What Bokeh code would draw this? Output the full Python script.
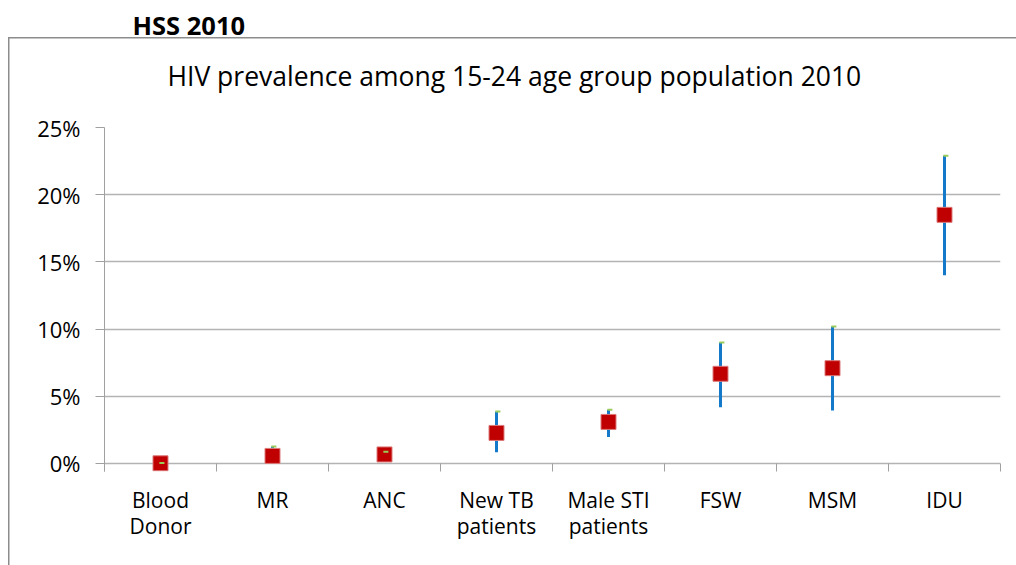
from bokeh.plotting import figure
from bokeh.models import FixedTicker, PrintfTickFormatter, Title, Range1d, ColumnDataSource
from bokeh.embed import file_html
from bokeh.resources import INLINE

# ---- data (percent) ----
categories = ["Blood\nDonor", "MR", "ANC", "New TB\npatients", "Male STI\npatients", "FSW", "MSM", "IDU"]
prevalence = [0.01, 0.56, 0.67, 2.27, 3.09, 6.67, 7.09, 18.5]
lower_ci = [0.0, 0.0, 0.5, 0.84, 1.96, 4.19, 3.94, 14.0]
upper_ci = [0.03, 1.26, 0.87, 3.87, 4.0, 9.0, 10.2, 22.9]
y_ticks = [0, 5, 10, 15, 20, 25]
chart_title = "HIV prevalence among 15-24 age group population 2010"
page_title = "HSS 2010"

xs = list(range(len(categories)))
src = ColumnDataSource(dict(
    x=xs,
    cap0=[x - 0.01 for x in xs],
    cap1=[x + 0.035 for x in xs],
    prev=prevalence, lo=lower_ci, hi=upper_ci,
))

FONT = "Open Sans"
GRID = "#b3b3b3"
AXIS = "#a0a0a0"
BOX = "#8c8c8c"

p = figure(width=1016, height=565, output_backend="svg", toolbar_location=None,
           x_range=Range1d(-0.5, len(categories) - 0.5), y_range=Range1d(-0.6, 25),
           min_border_left=104, min_border_right=16, min_border_top=127, min_border_bottom=94,
           title=page_title)
p.outline_line_color = None
p.background_fill_color = None
p.border_fill_color = None
# outer chart border (top and left edges of the surrounding box)
p.styles = {
    "background-image": f"linear-gradient({BOX}, {BOX}), linear-gradient({BOX}, {BOX})",
    "background-position": "8px 37px, 8px 37px",
    "background-size": "1100px 1.5px, 1.5px 700px",
    "background-repeat": "no-repeat",
}

# titles: page title outermost; chart title nearer the frame, with thin spacers
p.title.align = "left"
p.title.offset = 28
p.title.standoff = 0
p.title.text_font = FONT
p.title.text_font_size = "25.5px"
p.title.text_font_style = "bold"
p.title.text_color = "#000000"
p.add_layout(Title(text=" ", text_font_size="1px", standoff=30.5), "above")
p.add_layout(Title(text=chart_title, align="left", offset=63, standoff=0, text_font=FONT,
                   text_font_size="26.5px", text_font_style="normal", text_color="#000000"), "above")
p.add_layout(Title(text=" ", text_font_size="1px", standoff=11), "above")

# y axis
p.yaxis.ticker = FixedTicker(ticks=y_ticks)
p.yaxis.formatter = PrintfTickFormatter(format="%d%%")
p.yaxis.major_tick_out = 9
p.yaxis.major_tick_in = 0
p.yaxis.minor_tick_line_color = None
p.yaxis.major_tick_line_color = AXIS
p.yaxis.axis_line_color = AXIS
p.yaxis.major_label_standoff = 15
p.yaxis.major_label_text_font = FONT
p.yaxis.major_label_text_font_size = "22px"
p.yaxis.major_label_text_color = "#000000"

# x axis
p.xaxis.ticker = FixedTicker(ticks=xs, minor_ticks=[x - 0.5 for x in xs] + [xs[-1] + 0.5])
p.xaxis.major_label_overrides = {x: c for x, c in zip(xs, categories)}
p.xaxis.major_tick_line_color = None
p.xaxis.major_tick_in = 0
p.xaxis.major_tick_out = 0
p.xaxis.minor_tick_in = 8
p.xaxis.minor_tick_out = 0
p.xaxis.minor_tick_line_color = AXIS
p.xaxis.axis_line_color = None
p.xaxis.major_label_standoff = 14
p.xaxis.major_label_text_font = FONT
p.xaxis.major_label_text_font_size = "21px"
p.xaxis.major_label_text_line_height = 0.95
p.xaxis.major_label_text_color = "#000000"

# grid
p.xgrid.visible = False
p.ygrid.ticker = FixedTicker(ticks=y_ticks)
p.ygrid.grid_line_color = GRID
p.ygrid.grid_line_width = 1.6

# error bars, markers, caps
p.segment(x0="x", y0="lo", x1="x", y1="hi", source=src, line_color="#1479c9", line_width=3)
p.scatter(x="x", y="prev", source=src, marker="square", size=15,
          fill_color="#c00000", line_color="#dc7a7a", line_width=1)
p.segment(x0="cap0", y0="hi", x1="cap1", y1="hi", source=src, line_color="#9bcc5a", line_width=2)

open("out.html", "w").write(file_html(p, INLINE))
